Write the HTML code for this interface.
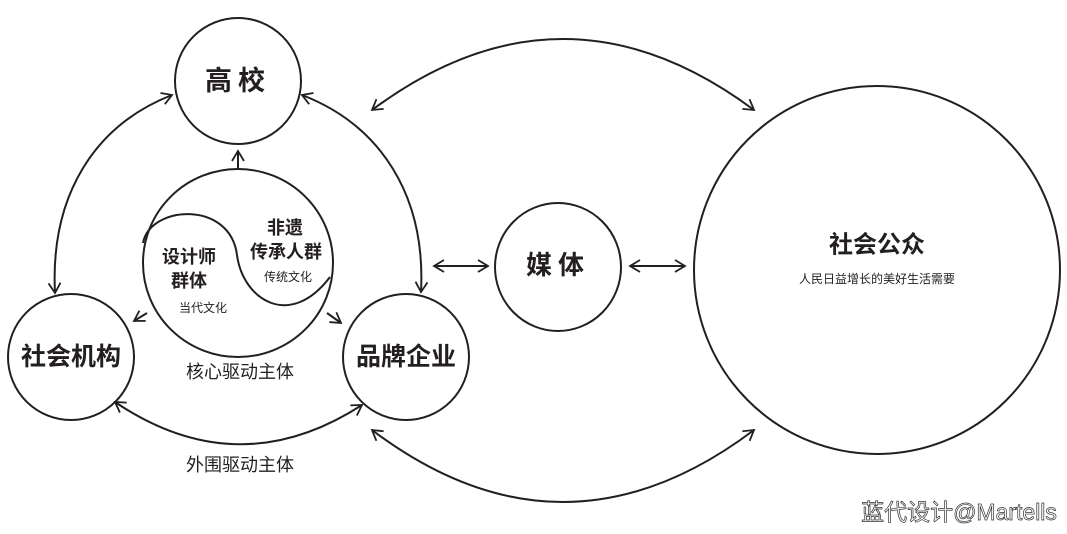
<!DOCTYPE html>
<html><head><meta charset="utf-8"><style>
html,body{margin:0;padding:0;background:#fff;}
svg text{font-family:"Liberation Sans","Noto Sans CJK SC",sans-serif;fill:#231f20;text-anchor:middle;dominant-baseline:central;}
</style></head><body>
<svg width="1067" height="529" viewBox="0 0 1067 529" xmlns="http://www.w3.org/2000/svg">
<defs>
<marker id="a" markerWidth="14" markerHeight="14" refX="11" refY="7" orient="auto-start-reverse" markerUnits="userSpaceOnUse">
<path d="M1,1 L11,7 L1,13" fill="none" stroke="#231f20" stroke-width="1.8"/>
</marker>
</defs>
<g fill="none" stroke="#231f20" stroke-width="2">
<circle cx="238" cy="81" r="63"/>
<circle cx="71" cy="357" r="63"/>
<circle cx="406" cy="357" r="63"/>
<ellipse cx="238" cy="263" rx="95" ry="94"/>
<path d="M143,243 C150,205 230,200 237,255 C243,300 290,330 330,277"/>
<ellipse cx="558" cy="267" rx="63" ry="64"/>
<ellipse cx="877" cy="270" rx="183" ry="184"/>
<path d="M372,110 Q563,-32 754,110" marker-start="url(#a)" marker-end="url(#a)"/>
<path d="M372,430 Q563,574 754,430" marker-start="url(#a)" marker-end="url(#a)"/>
<path d="M172,95 C95,125 50,195 55,293" marker-start="url(#a)" marker-end="url(#a)"/>
<path d="M302,95 C380,125 426,195 421,292" marker-start="url(#a)" marker-end="url(#a)"/>
<path d="M115,402 Q238,485 362,405" marker-start="url(#a)" marker-end="url(#a)"/>
<path d="M238,168 L238,151" marker-end="url(#a)"/>
<path d="M147,313 L134,321" marker-end="url(#a)"/>
<path d="M327,313 L341,323" marker-end="url(#a)"/>
<path d="M434,266 L488,266" marker-start="url(#a)" marker-end="url(#a)"/>
<path d="M630,266 L685,266" marker-start="url(#a)" marker-end="url(#a)"/>
</g>
<text x="238" y="81" font-size="27" font-weight="bold" letter-spacing="6">高校</text>
<text x="71" y="357" font-size="25" font-weight="bold">社会机构</text>
<text x="406" y="357" font-size="25" font-weight="bold">品牌企业</text>
<text x="558" y="265" font-size="26" font-weight="bold" letter-spacing="6">媒体</text>
<text x="877" y="245" font-size="24" font-weight="bold">社会公众</text>
<text x="877" y="279" font-size="12">人民日益增长的美好生活需要</text>
<text x="189" y="257" font-size="18" font-weight="bold">设计师</text>
<text x="189" y="281" font-size="18" font-weight="bold">群体</text>
<text x="203" y="308" font-size="12">当代文化</text>
<text x="285" y="228" font-size="18" font-weight="bold">非遗</text>
<text x="286" y="252" font-size="18" font-weight="bold">传承人群</text>
<text x="288" y="277" font-size="12">传统文化</text>
<text x="240" y="372" font-size="18">核心驱动主体</text>
<text x="240" y="465" font-size="18">外围驱动主体</text>
<text x="959" y="512" font-size="23" style="fill:#fff;stroke:#333;stroke-width:0.7">蓝代设计@Martells</text>
</svg>
</body></html>
